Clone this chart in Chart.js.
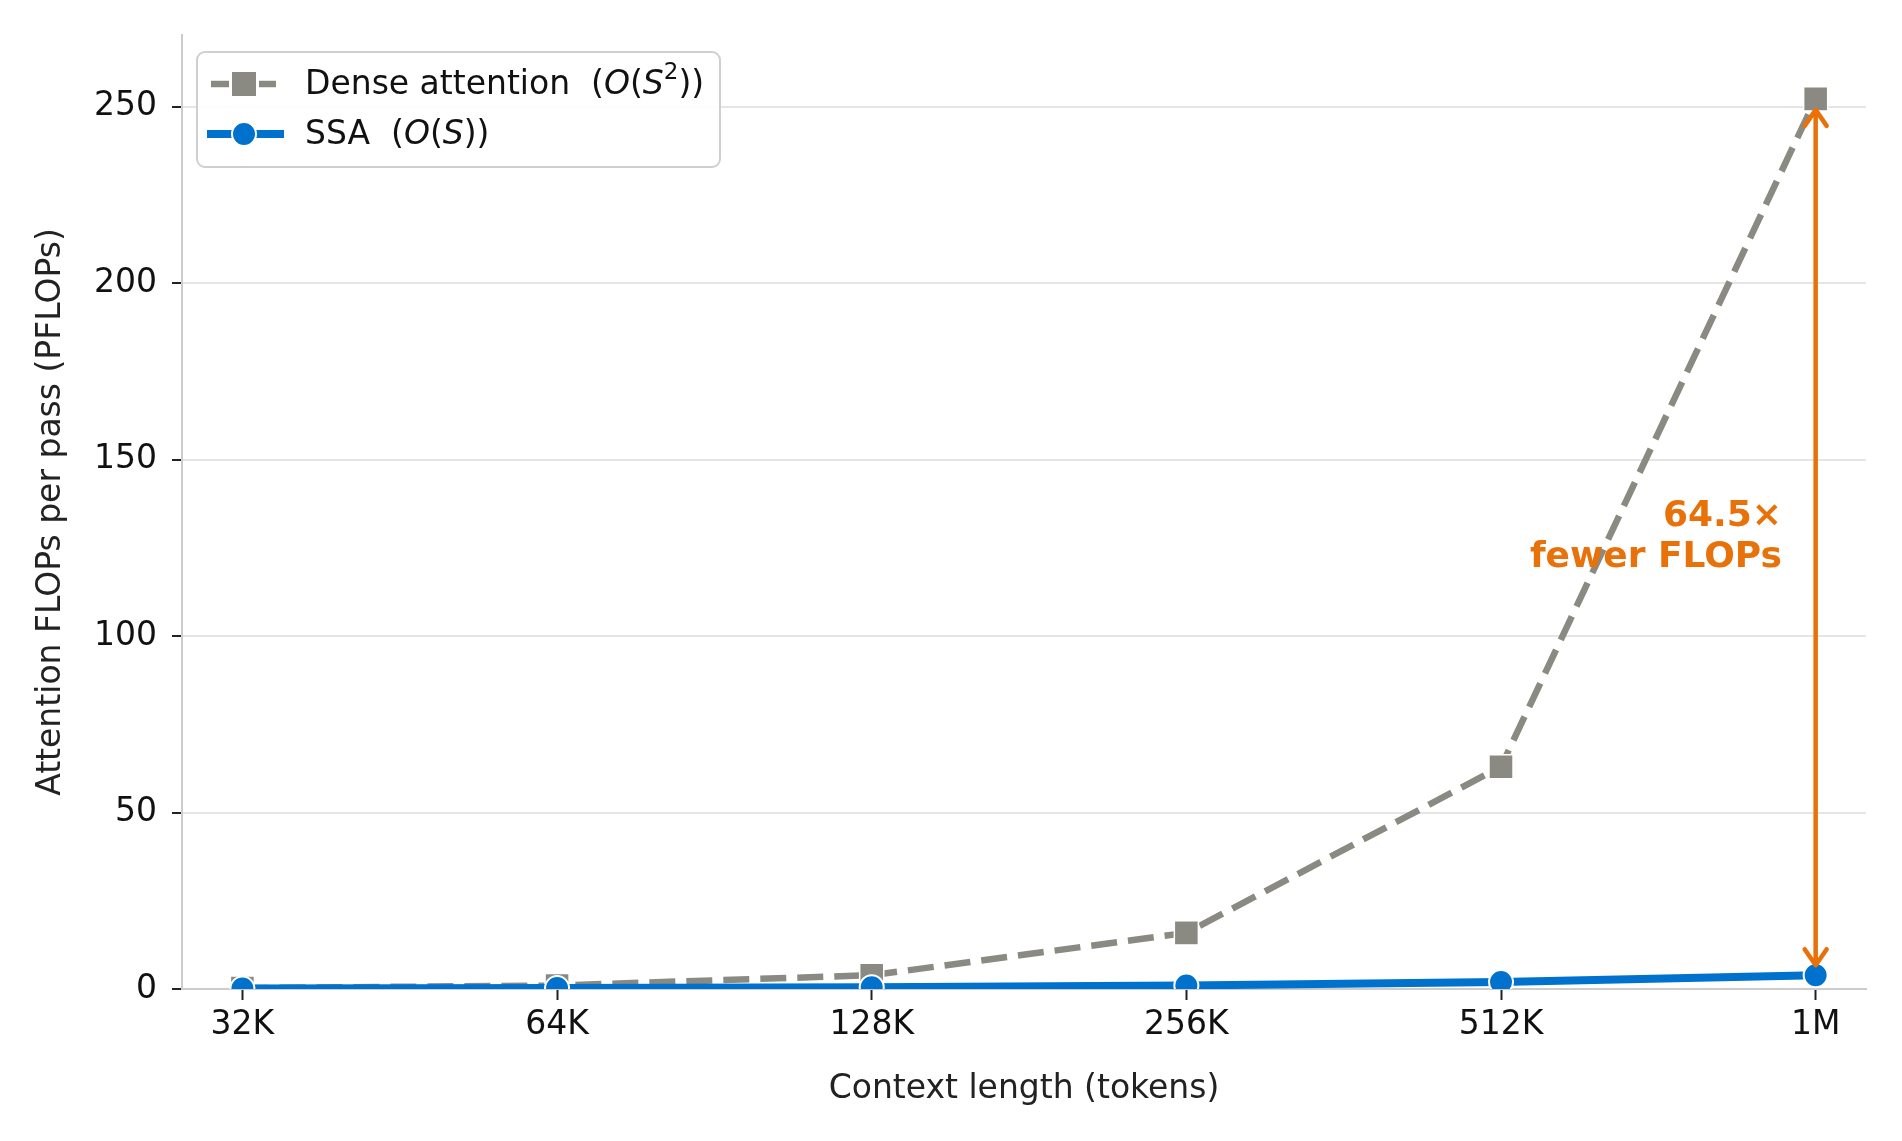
<!DOCTYPE html>
<html>
<head>
<meta charset="utf-8">
<script src="https://cdn.jsdelivr.net/npm/chart.js@4"></script>
<style>
  html, body { margin: 0; padding: 0; background: #fff; }
  canvas { display: block; }
</style>
</head>
<body>
<canvas id="flopsChart" width="1902" height="1141"></canvas>
<script>
// --- Data ---
const contextLabels = ['32K', '64K', '128K', '256K', '512K', '1M'];
const denseFlops    = [0.25, 1.0, 3.9, 15.9, 63.0, 252.2];   // PFLOPs, O(S^2)
const ssaFlops      = [0.12, 0.25, 0.5, 1.0, 1.95, 3.9];     // PFLOPs, O(S)
const yTicks        = [0, 50, 100, 150, 200, 250];
const speedupLabel  = ['64.5×', 'fewer FLOPs'];

// --- Colours ---
const GRAY   = '#8a8a82';
const BLUE   = '#0072ce';
const ORANGE = '#e8710a';
const FONT   = "'DejaVu Sans', sans-serif";
const FS     = 33;

const toPoints = vals => vals.map((v, i) => ({ x: i, y: v }));

// --- Custom legend (mixed italic text like the math labels) ---
const legendPlugin = {
  id: 'mathLegend',
  afterDraw(chart) {
    const ctx = chart.ctx;
    ctx.save();
    // frame
    ctx.beginPath();
    ctx.roundRect(197, 52, 523, 115, 8);
    ctx.fillStyle = 'rgba(255,255,255,0.9)';
    ctx.fill();
    ctx.strokeStyle = '#cfcfcf';
    ctx.lineWidth = 2;
    ctx.stroke();

    // dense handle
    ctx.strokeStyle = GRAY;
    ctx.lineWidth = 6.5;
    ctx.beginPath();
    ctx.moveTo(211, 84); ctx.lineTo(229, 84);
    ctx.moveTo(259, 84); ctx.lineTo(276, 84);
    ctx.stroke();
    ctx.fillStyle = GRAY;
    ctx.fillRect(232, 72, 24, 24);

    // ssa handle
    ctx.strokeStyle = BLUE;
    ctx.lineWidth = 8;
    ctx.beginPath();
    ctx.moveTo(207, 134); ctx.lineTo(284, 134);
    ctx.stroke();
    ctx.beginPath();
    ctx.arc(244, 134, 12, 0, Math.PI * 2);
    ctx.fillStyle = BLUE;
    ctx.fill();
    ctx.strokeStyle = '#fff';
    ctx.lineWidth = 2;
    ctx.stroke();

    // text
    ctx.fillStyle = '#111';
    ctx.textBaseline = 'middle';
    ctx.textAlign = 'left';
    const normal = `${FS}px ${FONT}`;
    const ital   = `italic ${FS}px ${FONT}`;
    const sup    = `23px ${FONT}`;
    const drawRuns = (x, y, runs) => {
      runs.forEach(r => {
        ctx.font = r.f;
        ctx.fillText(r.t, x, y + (r.dy || 0));
        x += ctx.measureText(r.t).width;
      });
    };
    drawRuns(305, 85, [
      { t: 'Dense attention  (', f: normal },
      { t: 'O', f: ital },
      { t: '(', f: normal },
      { t: 'S', f: ital },
      { t: '2', f: sup, dy: -12 },
      { t: '))', f: normal }
    ]);
    drawRuns(305, 135, [
      { t: 'SSA  (', f: normal },
      { t: 'O', f: ital },
      { t: '(', f: normal },
      { t: 'S', f: ital },
      { t: '))', f: normal }
    ]);
    ctx.restore();
  }
};

// --- Speed-up arrow + label ---
const arrowPlugin = {
  id: 'speedupArrow',
  afterDatasetsDraw(chart) {
    const ctx = chart.ctx;
    const xs = chart.scales.x, ys = chart.scales.y;
    const last = contextLabels.length - 1;
    const px = xs.getPixelForValue(last);
    const yTop = ys.getPixelForValue(denseFlops[last]) + 11;
    const yBot = ys.getPixelForValue(ssaFlops[last]) - 10;

    ctx.save();
    ctx.strokeStyle = ORANGE;
    ctx.lineWidth = 4.5;
    ctx.lineCap = 'round';
    ctx.lineJoin = 'round';
    ctx.beginPath();
    ctx.moveTo(px, yTop); ctx.lineTo(px, yBot);
    // heads
    ctx.moveTo(px - 11, yTop + 16); ctx.lineTo(px, yTop); ctx.lineTo(px + 11, yTop + 16);
    ctx.moveTo(px - 11, yBot - 16); ctx.lineTo(px, yBot); ctx.lineTo(px + 11, yBot - 16);
    ctx.stroke();

    ctx.fillStyle = ORANGE;
    ctx.font = `bold 36px ${FONT}`;
    ctx.textAlign = 'right';
    ctx.textBaseline = 'middle';
    ctx.fillText(speedupLabel[0], 1782, 517);
    ctx.fillText(speedupLabel[1], 1782, 558);
    ctx.restore();
  }
};

const ctx = document.getElementById('flopsChart').getContext('2d');
const chart = new Chart(ctx, {
  type: 'line',
  data: {
    datasets: [
      {
        label: 'SSA (O(S))',
        data: toPoints(ssaFlops),
        order: 0,
        borderColor: BLUE,
        backgroundColor: BLUE,
        borderWidth: 8,
        pointStyle: 'circle',
        pointRadius: 12,
        pointBorderColor: '#fff',
        pointBorderWidth: 2,
        pointBackgroundColor: BLUE,
        tension: 0,
        clip: { left: false, right: false, top: false, bottom: 0 }
      },
      {
        label: 'Dense attention (O(S^2))',
        data: toPoints(denseFlops),
        order: 1,
        borderColor: GRAY,
        backgroundColor: GRAY,
        borderWidth: 6.5,
        borderDash: [26, 11],
        pointStyle: 'rect',
        pointRadius: 17,
        pointBorderColor: '#fff',
        pointBorderWidth: 1.5,
        pointBackgroundColor: GRAY,
        tension: 0,
        clip: { left: false, right: false, top: false, bottom: 0 }
      }
    ]
  },
  options: {
    responsive: false,
    devicePixelRatio: 1,
    animation: false,
    layout: { padding: { top: 35, right: 36, bottom: 0, left: 0 } },
    plugins: {
      legend: { display: false },
      tooltip: { enabled: false }
    },
    scales: {
      x: {
        type: 'linear',
        min: -0.192,
        max: 5.16,
        afterBuildTicks: axis => { axis.ticks = contextLabels.map((_, i) => ({ value: i })); },
        afterFit: axis => { axis.height = 152; },
        ticks: {
          callback: v => contextLabels[v],
          font: { family: FONT, size: FS },
          color: '#111',
          padding: 6,
          maxRotation: 0,
          autoSkip: false
        },
        grid: {
          drawOnChartArea: false,
          drawTicks: true,
          tickLength: 11,
          tickColor: '#222',
          tickWidth: 2
        },
        border: { color: '#cccccc', width: 2 },
        title: {
          display: true,
          text: 'Context length (tokens)',
          font: { family: FONT, size: FS },
          color: '#222',
          padding: { top: 0, bottom: 32 }
        }
      },
      y: {
        min: 0,
        max: 270.3,
        afterBuildTicks: axis => { axis.ticks = yTicks.map(v => ({ value: v })); },
        afterFit: axis => { axis.width = 182; },
        ticks: {
          font: { family: FONT, size: FS },
          color: '#111',
          padding: 15
        },
        grid: {
          color: '#e5e5e5',
          lineWidth: 2,
          tickLength: 10,
          tickColor: '#222',
          tickWidth: 2
        },
        border: { color: '#cccccc', width: 2 },
        title: {
          display: true,
          text: 'Attention FLOPs per pass (PFLOPs)',
          font: { family: FONT, size: FS },
          color: '#222',
          padding: { top: 32, bottom: 0 }
        }
      }
    }
  },
  plugins: [arrowPlugin, legendPlugin]
});
</script>
</body>
</html>
